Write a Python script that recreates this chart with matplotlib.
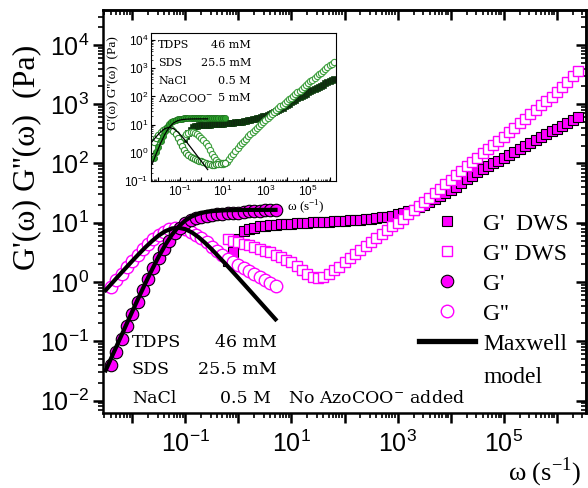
import numpy as np
import matplotlib.pyplot as plt
from matplotlib.lines import Line2D
from matplotlib.ticker import LogLocator, NullFormatter, FixedLocator

plt.rcParams['font.family'] = ['Liberation Sans', 'DejaVu Sans']

# ---------------- main plot data (log10 values) ----------------
# rheometer, no AzoCOO- added
rheo_logw = [-2.4, -2.3, -2.2, -2.1, -2.0, -1.9, -1.8, -1.7, -1.6, -1.5, -1.4, -1.3, -1.2, -1.1,
             -1.0, -0.9, -0.8, -0.7, -0.6, -0.5, -0.4, -0.3, -0.2, -0.1, 0.0, 0.1, 0.2, 0.3,
             0.4, 0.5, 0.6, 0.7]
rheo_gp = [-1.40, -1.18, -0.96, -0.75, -0.54, -0.34, -0.14, 0.05, 0.23, 0.40, 0.56, 0.70, 0.82, 0.92,
           0.99, 1.04, 1.08, 1.10, 1.12, 1.13, 1.14, 1.15, 1.16, 1.165, 1.17, 1.18, 1.19, 1.20,
           1.205, 1.21, 1.215, 1.22]
rheo_gpp = [-0.08, 0.03, 0.14, 0.25, 0.35, 0.45, 0.55, 0.64, 0.72, 0.79, 0.85, 0.89, 0.91, 0.91,
            0.89, 0.85, 0.80, 0.74, 0.67, 0.59, 0.52, 0.45, 0.39, 0.33, 0.28, 0.23, 0.18, 0.13,
            0.08, 0.03, -0.02, -0.06]

# DWS, no AzoCOO- added
dws_logw = [-0.2, -0.1,
            0.0, 0.1, 0.2, 0.3, 0.4, 0.5, 0.6, 0.7, 0.8, 0.9,
            1.0, 1.1, 1.2, 1.3, 1.4, 1.5, 1.6, 1.7, 1.8, 1.9,
            2.0, 2.1, 2.2, 2.3, 2.4, 2.5, 2.6, 2.7, 2.8, 2.9,
            3.0, 3.1, 3.2, 3.3, 3.4, 3.5, 3.6, 3.7, 3.8, 3.9,
            4.0, 4.1, 4.2, 4.3, 4.4, 4.5, 4.6, 4.7, 4.8, 4.9,
            5.0, 5.1, 5.2, 5.3, 5.4, 5.5, 5.6, 5.7, 5.8, 5.9,
            6.0, 6.1, 6.2, 6.3, 6.4]
dws_gp = [0.35, 0.50,
          0.72, 0.86, 0.90, 0.92, 0.94, 0.95, 0.96, 0.97, 0.975, 0.98,
          0.985, 0.99, 0.995, 1.0, 1.005, 1.01, 1.015, 1.02, 1.025, 1.03,
          1.035, 1.04, 1.045, 1.05, 1.06, 1.07, 1.08, 1.09, 1.10, 1.12,
          1.14, 1.16, 1.19, 1.22, 1.26, 1.30, 1.35, 1.40, 1.45, 1.50,
          1.55, 1.61, 1.67, 1.73, 1.79, 1.85, 1.90, 1.95, 2.00, 2.05,
          2.10, 2.15, 2.19, 2.24, 2.29, 2.34, 2.39, 2.44, 2.49, 2.54,
          2.59, 2.64, 2.69, 2.74, 2.79]
dws_gpp = [0.72, 0.70,
           0.67, 0.65, 0.62, 0.59, 0.56, 0.53, 0.50, 0.46, 0.42, 0.38,
           0.33, 0.27, 0.20, 0.13, 0.08, 0.06, 0.09, 0.14, 0.20, 0.26,
           0.33, 0.40, 0.47, 0.54, 0.61, 0.68, 0.74, 0.81, 0.87, 0.94,
           1.00, 1.07, 1.14, 1.21, 1.28, 1.35, 1.42, 1.50, 1.57, 1.65,
           1.72, 1.80, 1.87, 1.95, 2.02, 2.10, 2.17, 2.24, 2.31, 2.38,
           2.45, 2.53, 2.60, 2.68, 2.75, 2.83, 2.90, 2.98, 3.05, 3.13,
           3.20, 3.29, 3.38, 3.47, 3.56]

# Maxwell model curves (Pa)
maxw_logw = [-2.5, -2.25, -2.0, -1.875, -1.75, -1.625, -1.5, -1.375, -1.25, -1.125, -1.0,
             -0.875, -0.75, -0.625, -0.5, -0.25, 0.0, 0.25, 0.5, 0.7]
maxw_gp = [0.0323, 0.1017, 0.317, 0.555, 0.963, 1.635, 2.70, 4.26, 6.31, 8.65, 10.93,
           12.82, 14.21, 15.13, 15.70, 16.24, 16.42, 16.47, 16.49, 16.50]
maxw_gpp = [0.729, 1.291, 2.266, 2.975, 3.87, 4.93, 6.11, 7.22, 8.02, 8.24, 7.80,
            6.87, 5.71, 4.56, 3.55, 2.06, 1.173, 0.662, 0.372, 0.235]

# ---------------- inset data (5 mM AzoCOO-) ----------------
in_rheo_logw = [-2.2, -2.1, -2.0, -1.9, -1.8, -1.7, -1.6, -1.5, -1.4, -1.3, -1.2, -1.1,
                -1.0, -0.9, -0.8, -0.7, -0.6, -0.5, -0.4, -0.3, -0.2, -0.1,
                0.0, 0.1, 0.2, 0.3, 0.4, 0.5, 0.6, 0.7, 0.8, 0.9, 1.0, 1.1]
in_rheo_gp = [-0.18, 0.02, 0.22, 0.41, 0.60, 0.77, 0.91, 1.02, 1.09, 1.14, 1.17, 1.19,
              1.20, 1.21, 1.22, 1.22, 1.23, 1.23, 1.23, 1.23, 1.24, 1.24,
              1.24, 1.24, 1.24, 1.24, 1.24, 1.245, 1.245, 1.245, 1.25, 1.25, 1.25, 1.25]
in_rheo_gpp = [0.40, 0.52, 0.63, 0.73, 0.81, 0.86, 0.88, 0.87, 0.83, 0.76, 0.66, 0.54,
               0.40, 0.25, 0.11, 0.0, -0.08, -0.14, -0.19, -0.23, -0.26, -0.28,
               -0.30, -0.33, -0.36, -0.39, -0.41, -0.42, -0.42, -0.41, -0.40, -0.38, -0.36, -0.35]

in_dws_logw = [-0.8, -0.7, -0.6, -0.5, -0.4, -0.3, -0.2, -0.1,
               0.0, 0.1, 0.2, 0.3, 0.4, 0.5, 0.6, 0.7, 0.8, 0.9,
               1.0, 1.1, 1.2, 1.3, 1.4, 1.5, 1.6, 1.7, 1.8, 1.9,
               2.0, 2.1, 2.2, 2.3, 2.4, 2.5, 2.6, 2.7, 2.8, 2.9,
               3.0, 3.1, 3.2, 3.3, 3.4, 3.5, 3.6, 3.7, 3.8, 3.9,
               4.0, 4.1, 4.2, 4.3, 4.4, 4.5, 4.6, 4.7, 4.8, 4.9,
               5.0, 5.1, 5.2, 5.3, 5.4, 5.5, 5.6, 5.7, 5.8, 5.9,
               6.0, 6.1, 6.2]
in_dws_gp = [0.50, 0.58, 0.70, 0.82, 0.90, 0.94, 0.96, 0.97,
             0.98, 0.99, 0.99, 1.00, 1.00, 1.01, 1.01, 1.02, 1.02, 1.03,
             1.03, 1.04, 1.05, 1.05, 1.06, 1.07, 1.08, 1.09, 1.10, 1.11,
             1.13, 1.14, 1.16, 1.17, 1.19, 1.20, 1.22, 1.24, 1.26, 1.29,
             1.32, 1.35, 1.38, 1.41, 1.44, 1.48, 1.52, 1.56, 1.60, 1.65,
             1.70, 1.74, 1.79, 1.84, 1.89, 1.94, 1.98, 2.02, 2.06, 2.10,
             2.14, 2.18, 2.22, 2.26, 2.30, 2.34, 2.38, 2.42, 2.46, 2.50,
             2.54, 2.58, 2.62]
in_dws_gpp = [0.55, 0.65, 0.72, 0.74, 0.73, 0.70, 0.65, 0.60,
              0.54, 0.46, 0.36, 0.24, 0.10, -0.04, -0.16, -0.26, -0.33, -0.37,
              -0.38, -0.37, -0.32, -0.23, -0.13, -0.03, 0.07, 0.17, 0.26, 0.34,
              0.42, 0.50, 0.58, 0.65, 0.73, 0.80, 0.88, 0.95, 1.03, 1.10,
              1.18, 1.25, 1.32, 1.39, 1.46, 1.52, 1.59, 1.65, 1.71, 1.77,
              1.84, 1.90, 1.96, 2.02, 2.09, 2.15, 2.21, 2.28, 2.34, 2.40,
              2.47, 2.53, 2.59, 2.65, 2.72, 2.78, 2.84, 2.91, 2.97, 3.03,
              3.10, 3.16, 3.22]

in_maxw_logw = [-2.3, -2.1, -1.9, -1.7, -1.5, -1.3, -1.1, -0.9, -0.7, -0.5, -0.3, -0.1, 0.1, 0.3]
in_maxw_gp = [0.392, 0.950, 2.19, 4.56, 8.0, 11.44, 13.81, 15.05, 15.61, 15.84, 15.94, 15.98, 15.99, 16.0]
in_maxw_gpp = [2.47, 3.78, 5.50, 7.22, 8.0, 7.22, 5.50, 3.78, 2.47, 1.584, 1.006, 0.636, 0.402, 0.2535]

p = lambda a: 10.0 ** np.array(a)
MAG = '#ff00ff'
SERIF = ['Liberation Serif', 'DejaVu Serif']

fig = plt.figure(figsize=(5.88, 4.88), dpi=100)
ax = fig.add_axes([0.1752, 0.1537, 0.8214, 0.8258])

# DWS squares
ax.plot(p(dws_logw), p(dws_gp), ls='none', marker='s', ms=7.5, mfc=MAG, mec='black', mew=0.8)
ax.plot(p(dws_logw), p(dws_gpp), ls='none', marker='s', ms=7.5, mfc='white', mec=MAG, mew=1.0)
# rheometer circles
ax.plot(p(rheo_logw), p(rheo_gpp), ls='none', marker='o', ms=9, mfc='white', mec=MAG, mew=1.0)
ax.plot(p(rheo_logw), p(rheo_gp), ls='none', marker='o', ms=9, mfc=MAG, mec='black', mew=0.8)
# Maxwell model
ax.plot(p(maxw_logw), maxw_gp, color='black', lw=3)
ax.plot(p(maxw_logw), maxw_gpp, color='black', lw=3)

ax.set_xscale('log')
ax.set_yscale('log')
ax.set_xlim(10 ** -2.55, 10 ** 6.55)
ax.set_ylim(10 ** -2.21, 10 ** 4.59)

xmaj = [10.0 ** k for k in range(-2, 7)]
ymaj = [10.0 ** k for k in range(-2, 5)]
ax.set_xticks(xmaj)
ax.set_xticklabels([r'$\mathdefault{10^{%d}}$' % k if k % 2 else '' for k in range(-2, 7)])
ax.set_yticks(ymaj)
ax.set_yticklabels([r'$\mathdefault{10^{%d}}$' % k for k in range(-2, 5)])
for a in (ax.xaxis, ax.yaxis):
    a.set_minor_locator(LogLocator(base=10, subs=range(2, 10), numticks=20))
    a.set_minor_formatter(NullFormatter())
ax.tick_params(which='major', direction='out', length=7, width=1.8, labelsize=18, pad=3)
ax.tick_params(which='minor', direction='out', length=3.5, width=1.2)
ax.tick_params(axis='x', which='major', pad=6)
for s in ax.spines.values():
    s.set_linewidth(1.8)

# mirrored ticks on top / right, pointing into the frame
secx = ax.secondary_xaxis('top')
secx.xaxis.set_major_locator(FixedLocator(xmaj))
secx.xaxis.set_minor_locator(LogLocator(base=10, subs=range(2, 10), numticks=20))
secx.tick_params(which='major', direction='in', length=7, width=1.8, labeltop=False)
secx.tick_params(which='minor', direction='in', length=3.5, width=1.2)
secy = ax.secondary_yaxis('right')
secy.yaxis.set_major_locator(FixedLocator(ymaj))
secy.yaxis.set_minor_locator(LogLocator(base=10, subs=range(2, 10), numticks=20))
secy.tick_params(which='major', direction='in', length=7, width=1.8, labelright=False)
secy.tick_params(which='minor', direction='in', length=3.5, width=1.2)
for sa in (secx, secy):
    for s in sa.spines.values():
        s.set_linewidth(1.8)

ax.set_ylabel("G'(ω) G''(ω)  (Pa)", family=SERIF, fontsize=23)
ax.yaxis.set_label_coords(-0.128, 0.635)
ax.set_xlabel(r'ω (s$^{\mathdefault{-1}}$)', family=SERIF, fontsize=19)
ax.xaxis.set_label_coords(0.915, -0.106)

# composition text
tkw = dict(transform=ax.transAxes, family='DejaVu Serif', fontsize=12.5, va='center')
ax.text(0.060, 0.176, 'TDPS', **tkw)
ax.text(0.360, 0.176, '46 mM', ha='right', **tkw)
ax.text(0.060, 0.107, 'SDS', **tkw)
ax.text(0.360, 0.107, '25.5 mM', ha='right', **tkw)
ax.text(0.060, 0.035, 'NaCl', **tkw)
ax.text(0.347, 0.035, '0.5 M', ha='right', **tkw)
ax.text(0.383, 0.035, 'No AzoCOO$^{\\mathdefault{-}}$ added', **tkw)

handles = [
    Line2D([], [], ls='none', marker='s', ms=7.5, mfc=MAG, mec='black', mew=0.8),
    Line2D([], [], ls='none', marker='s', ms=7.5, mfc='white', mec=MAG, mew=1.0),
    Line2D([], [], ls='none', marker='o', ms=9, mfc=MAG, mec='black', mew=0.8),
    Line2D([], [], ls='none', marker='o', ms=9, mfc='white', mec=MAG, mew=1.0),
    Line2D([], [], color='black', lw=3.8),
]
labels = ["G'  DWS", "G'' DWS", "G'", "G''", "Maxwell"]
ax.legend(handles, labels, loc='upper left', bbox_to_anchor=(0.654, 0.496), frameon=False,
          prop={'family': SERIF, 'size': 17}, handlelength=2.37, handletextpad=0.35,
          labelspacing=0.36, borderpad=0, borderaxespad=0)
ax.text(0.787, 0.089, 'model', transform=ax.transAxes, family=SERIF, fontsize=17, va='center')

# ---------------- inset ----------------
axi = fig.add_axes([0.2568, 0.6291, 0.3146, 0.3033])
axi.set_facecolor('white')
axi.plot(p(in_dws_logw), p(in_dws_gp), ls='none', marker='s', ms=4.2, mfc='#0f2a0f', mec='#0b3d0b', mew=0.5)
axi.plot(p(in_dws_logw), p(in_dws_gpp), ls='none', marker='o', ms=4.5, mfc='white', mec='#3c9f3c', mew=0.8)
axi.plot(p(in_rheo_logw), p(in_rheo_gpp), ls='none', marker='o', ms=4.5, mfc='white', mec='#2f8f2f', mew=0.8)
axi.plot(p(in_rheo_logw), p(in_rheo_gp), ls='none', marker='o', ms=4.5, mfc='#2ca02c', mec='#1a6b1a', mew=0.5)
axi.plot(p(in_maxw_logw), in_maxw_gp, color='black', lw=0.9)
axi.plot(p(in_maxw_logw), in_maxw_gpp, color='black', lw=0.9)
axi.set_xscale('log')
axi.set_yscale('log')
axi.set_xlim(10 ** -2.35, 10 ** 6.3)
axi.set_ylim(10 ** -1.0, 10 ** 4.25)
axi.set_xticks([10.0 ** k for k in range(-2, 7)])
axi.set_xticklabels([r'$\mathdefault{10^{%d}}$' % k if k % 2 else '' for k in range(-2, 7)])
axi.set_yticks([10.0 ** k for k in range(-1, 5)])
axi.set_yticklabels([r'$\mathdefault{10^{%d}}$' % k for k in range(-1, 5)])
for a in (axi.xaxis, axi.yaxis):
    a.set_minor_locator(LogLocator(base=10, subs=range(2, 10), numticks=20))
    a.set_minor_formatter(NullFormatter())
axi.tick_params(which='major', direction='in', length=3, width=0.8, labelsize=8.5, pad=2)
axi.tick_params(which='minor', direction='in', length=1.5, width=0.5)
for s in axi.spines.values():
    s.set_linewidth(0.8)
axi.set_ylabel("G'(ω) G''(ω)  (Pa)", family=SERIF, fontsize=9.5)
axi.yaxis.set_label_coords(-0.17, 0.66)
axi.set_xlabel(r'ω (s$^{\mathdefault{-1}}$)', family=SERIF, fontsize=9.5)
axi.xaxis.set_label_coords(0.84, -0.12)

ikw = dict(transform=axi.transAxes, family='DejaVu Serif', fontsize=8, va='center')
axi.text(0.038, 0.919, 'TDPS', **ikw)
axi.text(0.54, 0.919, '46 mM', ha='right', **ikw)
axi.text(0.038, 0.797, 'SDS', **ikw)
axi.text(0.54, 0.797, '25.5 mM', ha='right', **ikw)
axi.text(0.038, 0.676, 'NaCl', **ikw)
axi.text(0.54, 0.676, '0.5 M', ha='right', **ikw)
axi.text(0.038, 0.561, 'AzoCOO$^{\\mathdefault{-}}$', **ikw)
axi.text(0.54, 0.561, '5 mM', ha='right', **ikw)

fig.savefig('out.png', dpi=100)
